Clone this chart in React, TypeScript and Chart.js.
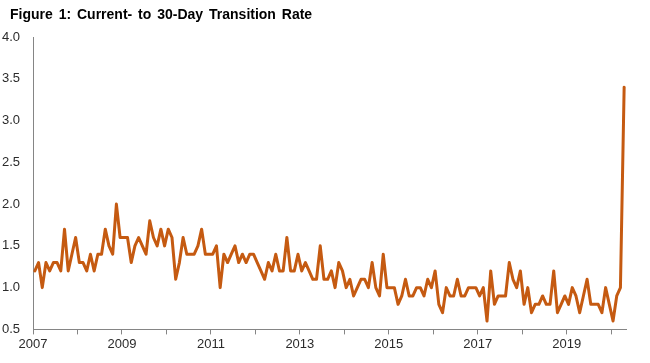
import React, { useEffect, useRef } from "react";
import { Chart, registerables } from "chart.js";

Chart.register(...registerables);

const TITLE = "Figure 1: Current- to 30-Day Transition Rate";

// Monthly current-to-30-day transition rate (%), Jan 2007 – Apr 2020
const rate2007 = [1.2, 1.3, 1.0, 1.3, 1.2, 1.3, 1.3, 1.2, 1.7, 1.2, 1.4, 1.6];
const rate2008 = [1.3, 1.3, 1.2, 1.4, 1.2, 1.4, 1.4, 1.7, 1.5, 1.4, 2.0, 1.6];
const rate2009 = [1.6, 1.6, 1.3, 1.5, 1.6, 1.5, 1.4, 1.8, 1.6, 1.5, 1.7, 1.5];
const rate2010 = [1.7, 1.6, 1.1, 1.3, 1.6, 1.4, 1.4, 1.4, 1.5, 1.7, 1.4, 1.4];
const rate2011 = [1.4, 1.5, 1.0, 1.4, 1.3, 1.4, 1.5, 1.3, 1.4, 1.3, 1.4, 1.4];
const rate2012 = [1.3, 1.2, 1.1, 1.3, 1.2, 1.4, 1.2, 1.2, 1.6, 1.2, 1.2, 1.4];
const rate2013 = [1.2, 1.3, 1.2, 1.1, 1.1, 1.5, 1.1, 1.1, 1.2, 1.0, 1.3, 1.2];
const rate2014 = [1.0, 1.1, 0.9, 1.0, 1.1, 1.1, 1.0, 1.3, 1.0, 0.9, 1.4, 1.0];
const rate2015 = [1.0, 1.0, 0.8, 0.9, 1.1, 0.9, 0.9, 1.0, 1.0, 0.9, 1.1, 1.0];
const rate2016 = [1.2, 0.8, 0.7, 1.0, 0.9, 0.9, 1.1, 0.9, 0.9, 1.0, 1.0, 1.0];
const rate2017 = [0.9, 1.0, 0.6, 1.2, 0.8, 0.9, 0.9, 0.9, 1.3, 1.1, 1.0, 1.2];
const rate2018 = [0.8, 1.0, 0.7, 0.8, 0.8, 0.9, 0.8, 0.8, 1.2, 0.7, 0.8, 0.9];
const rate2019 = [0.8, 1.0, 0.9, 0.7, 0.9, 1.1, 0.8, 0.8, 0.8, 0.7, 1.0, 0.8];
const rate2020 = [0.6, 0.9, 1.0, 3.4];

const yearlyRates = [
  rate2007, rate2008, rate2009, rate2010, rate2011, rate2012, rate2013,
  rate2014, rate2015, rate2016, rate2017, rate2018, rate2019, rate2020,
];
const START_YEAR = 2007;

// Axis ticks
const tickYears = [2007, 2008, 2009, 2010, 2011, 2012, 2013, 2014, 2015, 2016, 2017, 2018, 2019, 2020];
const labelYears = [2007, 2009, 2011, 2013, 2015, 2017, 2019];
const yTicks = [0.5, 1.0, 1.5, 2.0, 2.5, 3.0, 3.5, 4.0];

const LINE_COLOR = "#C55A11";
const AXIS_COLOR = "#858585";
const TEXT_COLOR = "#2b2b2b";
const FONT = "'Liberation Sans', Arial, sans-serif";

export default function App() {
  const ref = useRef<HTMLCanvasElement | null>(null);

  useEffect(() => {
    if (!ref.current) return;
    const points: { x: number; y: number }[] = [];
    yearlyRates.forEach((arr, yi) => {
      arr.forEach((v, m) => {
        points.push({ x: START_YEAR + yi + (m + 0.5) / 12, y: v });
      });
    });
    const lastYear = START_YEAR + yearlyRates.length - 1;
    const xMax = lastYear + rate2020.length / 12;

    const titlePlugin = {
      id: "figTitle",
      afterDraw(chart: any) {
        const ctx = chart.ctx;
        ctx.save();
        ctx.font = `bold 14px ${FONT}`;
        ctx.fillStyle = "#000";
        ctx.textBaseline = "alphabetic";
        ctx.textAlign = "left";
        try {
          (ctx as any).wordSpacing = "2px";
        } catch (e) {}
        ctx.fillText(TITLE, 10, 19);
        ctx.restore();
      },
    };

    const chart = new Chart(ref.current, {
      type: "line",
      data: {
        datasets: [
          {
            data: points,
            borderColor: LINE_COLOR,
            backgroundColor: LINE_COLOR,
            borderWidth: 3,
            pointRadius: 0,
            tension: 0,
            borderJoinStyle: "round",
            borderCapStyle: "round",
            fill: false,
          },
        ],
      },
      options: {
        responsive: false,
        animation: false,
        layout: { padding: { left: 2, right: 24, top: 37, bottom: 9 } },
        plugins: {
          legend: { display: false },
          title: { display: false },
          tooltip: { enabled: false },
        },
        scales: {
          x: {
            type: "linear",
            min: START_YEAR,
            max: xMax,
            afterBuildTicks: (scale: any) => {
              scale.ticks = tickYears.map((v) => ({ value: v }));
            },
            grid: {
              drawOnChartArea: false,
              drawTicks: true,
              tickLength: 5,
              color: AXIS_COLOR,
              lineWidth: 1,
            },
            border: { display: true, color: AXIS_COLOR, width: 1 },
            ticks: {
              autoSkip: false,
              maxRotation: 0,
              padding: 2,
              color: TEXT_COLOR,
              font: { family: FONT, size: 13 },
              callback: (v: any) => (labelYears.includes(Number(v)) ? String(v) : ""),
            },
          },
          y: {
            min: 0.5,
            max: 4.0,
            afterBuildTicks: (scale: any) => {
              scale.ticks = yTicks.map((v) => ({ value: v }));
            },
            afterFit: (scale: any) => {
              scale.width = 31;
            },
            grid: { drawOnChartArea: false, drawTicks: false },
            border: { display: true, color: AXIS_COLOR, width: 1 },
            ticks: {
              padding: 13,
              color: TEXT_COLOR,
              font: { family: FONT, size: 13 },
              callback: (v: any) => Number(v).toFixed(1),
            },
          },
        },
      },
      plugins: [titlePlugin],
    } as any);

    return () => chart.destroy();
  }, []);

  return (
    <div style={{ position: "absolute", left: 0, top: 0, width: 650, height: 363, background: "#fff" }}>
      <canvas ref={ref} width={650} height={363} style={{ display: "block" }} />
    </div>
  );
}
